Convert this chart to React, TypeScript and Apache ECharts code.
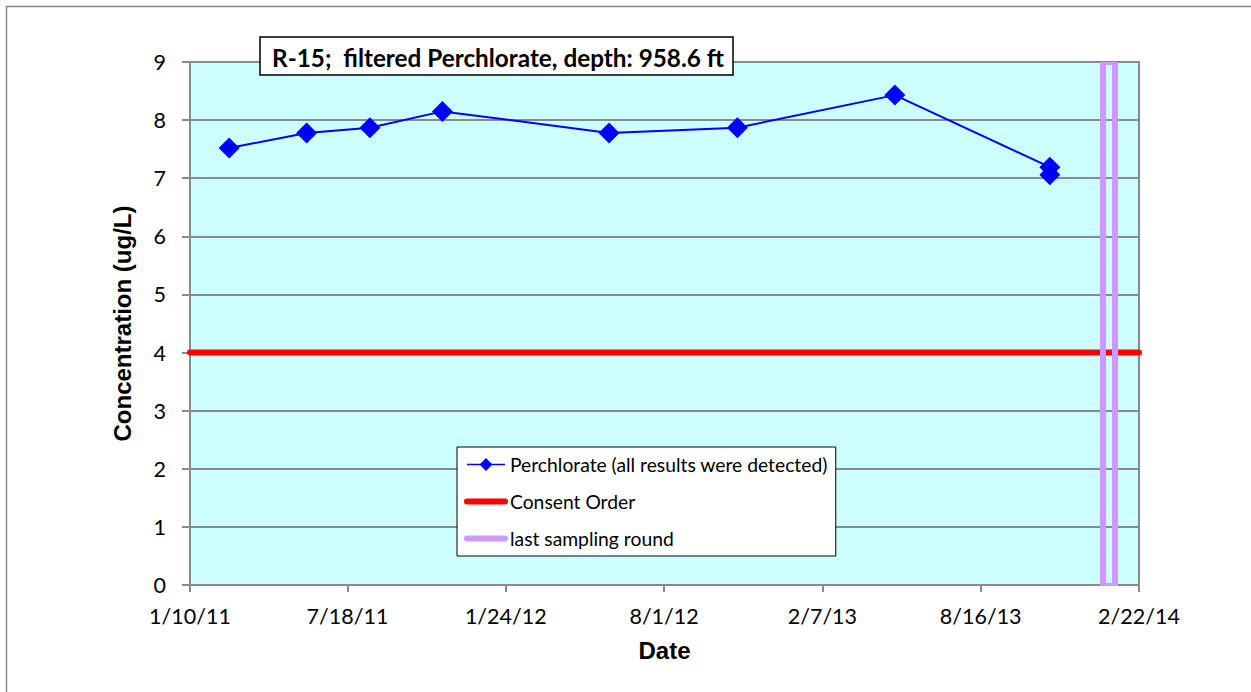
import React, { useEffect, useRef } from 'react';
import * as echarts from 'echarts';

const chartTitle = 'R-15;  filtered Perchlorate, depth: 958.6 ft';
const seriesNames = ['Perchlorate (all results were detected)', 'Consent Order', 'last sampling round'];
const sampleDates = ['2011-02-26', '2011-05-30', '2011-08-14', '2011-11-09', '2012-05-27', '2012-10-28', '2013-05-05', '2013-11-07', '2013-11-07'];
const perchlorateValues = [7.52, 7.78, 7.87, 8.15, 7.78, 7.87, 8.43, 7.19, 7.06];
const consentOrderLevel = 4;
const lastSamplingDate = '2014-01-17';
const xTickLabels = ['1/10/11', '7/18/11', '1/24/12', '8/1/12', '2/7/13', '8/16/13', '2/22/14'];
const yMin = 0;
const yMax = 9;
const yInterval = 1;

const parseIso = (s: string) => {
  const [y, m, d] = s.split('-').map(Number);
  return Date.UTC(y, m - 1, d);
};
const parseTick = (s: string) => {
  const [m, d, y] = s.split('/').map(Number);
  return Date.UTC(2000 + y, m - 1, d);
};
const fmtDate = (v: number) => {
  const dt = new Date(v);
  return `${dt.getUTCMonth() + 1}/${dt.getUTCDate()}/${String(dt.getUTCFullYear() % 100).padStart(2, '0')}`;
};

export default function App() {
  const ref = useRef<HTMLDivElement>(null);
  useEffect(() => {
    if (!ref.current) return;
    const chart = echarts.init(ref.current, null, { renderer: 'svg' });
    const tickValues = xTickLabels.map(parseTick);
    const xMin = tickValues[0];
    const xMax = tickValues[tickValues.length - 1];
    const gray = '#8a8a8a';
    const labelFont = 'Lato, "Noto Sans", sans-serif';
    const hidden = { color: 'rgba(0,0,0,0)', borderWidth: 0, borderColor: 'rgba(0,0,0,0)' };
    const option: any = {
      animation: false,
      backgroundColor: '#ffffff',
      grid: {
        left: 190, top: 62, right: 112, bottom: 107,
        show: true, backgroundColor: '#CCFFFF', borderColor: gray, borderWidth: 2,
      },
      xAxis: {
        type: 'value', min: xMin, max: xMax,
        name: 'Date', nameLocation: 'middle', nameGap: 53,
        nameTextStyle: { fontFamily: '"Liberation Sans", Arial, sans-serif', fontWeight: 'bold', fontSize: 24, color: '#000' },
        axisLine: { show: true, onZero: false, lineStyle: { color: gray, width: 2 } },
        axisTick: { show: true, length: 7, customValues: tickValues, lineStyle: { color: gray, width: 2 } },
        axisLabel: {
          customValues: tickValues, formatter: (v: number) => fmtDate(v),
          fontFamily: labelFont, fontSize: 21.5, color: '#000', margin: 20,
        },
        splitLine: { show: false },
      },
      yAxis: {
        type: 'value', min: yMin, max: yMax, interval: yInterval,
        name: 'Concentration (ug/L)', nameLocation: 'middle', nameGap: 56,
        nameTextStyle: { fontFamily: '"Liberation Sans", Arial, sans-serif', fontWeight: 'bold', fontSize: 24, color: '#000' },
        axisLine: { show: true, lineStyle: { color: gray, width: 2 } },
        axisTick: { show: true, inside: false, length: 8, lineStyle: { color: gray, width: 2 } },
        axisLabel: { fontFamily: labelFont, fontSize: 21.5, color: '#000', margin: 24 },
        splitLine: { show: true, lineStyle: { color: gray, width: 2 } },
      },
      legend: {
        orient: 'vertical', left: 457, top: 447,
        padding: [8, 8, 8, 7], itemGap: 18, itemWidth: 38, itemHeight: 16,
        backgroundColor: '#ffffff', borderColor: '#000', borderWidth: 1,
        selectedMode: false, z: 20,
        textStyle: { fontFamily: labelFont, fontSize: 19.3, color: '#000' },
        data: [
          { name: seriesNames[0], lineStyle: { width: 1.5, color: '#0000FF' } },
          { name: seriesNames[1], lineStyle: { width: 6, cap: 'round', color: '#FF0000' }, itemStyle: hidden },
          { name: seriesNames[2], lineStyle: { width: 6, cap: 'round', color: '#CC99FF' }, itemStyle: hidden },
        ],
      },
      series: [
        {
          name: seriesNames[1], type: 'line', symbol: 'none', z: 2,
          lineStyle: { color: '#FF0000', width: 6, cap: 'round' }, itemStyle: { color: '#FF0000' },
          data: [[xMin, consentOrderLevel], [xMax, consentOrderLevel]],
        },
        {
          name: seriesNames[2], type: 'line', symbol: 'none', data: [],
          lineStyle: { color: '#CC99FF', width: 6 }, itemStyle: { color: '#CC99FF' },
        },
        {
          type: 'custom', z: 3, silent: true,
          data: [[parseIso(lastSamplingDate), yMax]],
          renderItem: (params: any, api: any) => {
            const t = api.coord([api.value(0), yMax]);
            const b = api.coord([api.value(0), yMin]);
            const cx = t[0];
            const h = b[1] - t[1] + 1;
            const fill = '#CC99FF';
            return {
              type: 'group',
              children: [
                { type: 'rect', shape: { x: cx - 9, y: t[1], width: 6, height: h }, style: { fill } },
                { type: 'rect', shape: { x: cx + 3, y: t[1], width: 6, height: h }, style: { fill } },
                { type: 'rect', shape: { x: cx - 9, y: t[1], width: 18, height: 3 }, style: { fill } },
                { type: 'rect', shape: { x: cx - 9, y: b[1] - 2, width: 18, height: 3 }, style: { fill } },
              ],
            };
          },
        },
        {
          name: seriesNames[0], type: 'line', z: 4,
          symbol: 'diamond', symbolSize: 21,
          lineStyle: { color: '#0000FF', width: 2 }, itemStyle: { color: '#0000FF' },
          data: sampleDates.map((d, i) => [parseIso(d), perchlorateValues[i]]),
        },
      ],
      graphic: {
        elements: [
          {
            type: 'rect', silent: true, z: -1,
            shape: { x: 6.5, y: 6.5, width: 1300, height: 800 },
            style: { fill: 'none', stroke: '#8a8a8a', lineWidth: 1.5 },
          },
          {
            type: 'rect', z: 100, silent: true,
            shape: { x: 260, y: 37, width: 473, height: 38 },
            style: { fill: '#fff', stroke: '#000', lineWidth: 1.5 },
          },
          {
            type: 'text', z: 101, silent: true, x: 498, y: 57,
            style: {
              text: chartTitle, align: 'center', verticalAlign: 'middle',
              fontFamily: labelFont, fontWeight: 'bold', fontSize: 24.3, fill: '#000',
            },
          },
        ],
      },
    };
    chart.setOption(option);
    return () => chart.dispose();
  }, []);
  return <div ref={ref} style={{ position: 'absolute', left: 0, top: 0, width: 1251, height: 692 }} />;
}
